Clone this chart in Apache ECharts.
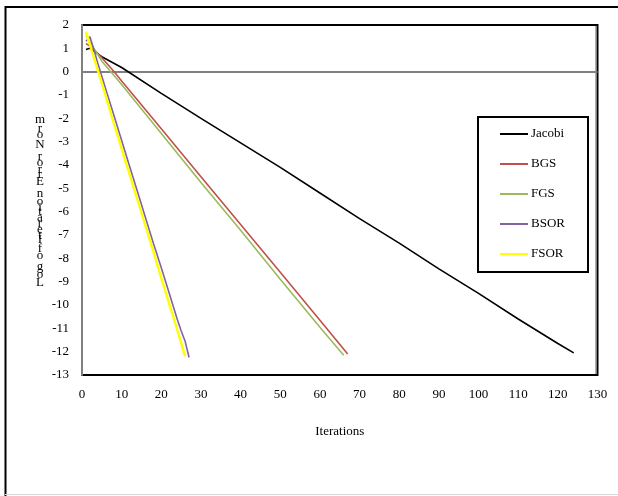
<!DOCTYPE html>
<html><head><meta charset="utf-8">
<script src="https://cdn.jsdelivr.net/npm/echarts@6/dist/echarts.min.js"></script>
<style>html,body{margin:0;padding:0;background:#fff}#c{width:618px;height:496px}</style>
</head><body><div id="c"></div>
<script>
// ---- data ----
const seriesNames = ['Jacobi', 'BGS', 'FGS', 'BSOR', 'FSOR'];
const seriesColors = ['#000000', '#C0504D', '#9BBB59', '#8064A2', '#FFFF00'];

const jacobiIter = [1, 2, 3, 5, 10, 20, 30, 40, 50, 60, 70, 80, 90, 100, 110, 120, 124];
const jacobiVal  = [0.95, 1.0, 0.88, 0.64, 0.18, -0.93, -2.0, -3.05, -4.1, -5.2, -6.3, -7.35, -8.45, -9.5, -10.6, -11.65, -12.05];

const bgsIter = [1, 2, 3, 5, 8, 10, 20, 30, 40, 50, 60, 67];
const bgsVal  = [1.2, 1.1, 0.95, 0.6, 0.02, -0.4, -2.45, -4.5, -6.55, -8.6, -10.65, -12.1];

const fgsIter = [1, 2, 3, 5, 7, 10, 20, 30, 40, 50, 60, 66];
const fgsVal  = [1.55, 1.3, 1.0, 0.45, 0.05, -0.55, -2.65, -4.75, -6.8, -8.9, -10.95, -12.15];

const bsorIter = [1, 2, 3, 4, 5, 6, 8, 10, 12, 14, 16, 18, 20, 22, 24, 25, 26, 27];
const bsorVal  = [1.3, 1.5, 0.95, 0.35, -0.2, -0.75, -1.85, -2.95, -4.05, -5.15, -6.25, -7.35, -8.4, -9.5, -10.6, -11.1, -11.55, -12.25];

const fsorIter = [1, 2, 3, 4, 5, 6, 8, 10, 12, 14, 16, 18, 20, 22, 24, 26];
const fsorVal  = [1.72, 1.15, 0.6, 0.05, -0.5, -1.05, -2.2, -3.3, -4.4, -5.5, -6.6, -7.7, -8.85, -9.95, -11.05, -12.2];

const xAxisTitle = 'Iterations';
const yAxisTitle = 'Log of Iteration Error Norm';

// ---- build ----
const iters = [jacobiIter, bgsIter, fgsIter, bsorIter, fsorIter];
const vals  = [jacobiVal, bgsVal, fgsVal, bsorVal, fsorVal];
const FONT = 'Liberation Serif';

const chart = echarts.init(document.getElementById('c'), null, {renderer: 'canvas'});

const series = seriesNames.map((name, k) => ({
  name: name,
  type: 'line',
  data: iters[k].map((x, i) => [x, vals[k][i]]),
  showSymbol: false,
  symbol: 'none',
  color: seriesColors[k],
  lineStyle: {color: seriesColors[k], width: k === 4 ? 2.5 : 1.6},
  z: 3 + k,
  animation: false
}));
// zero line
series[0].markLine = {
  silent: true, symbol: 'none', animation: false,
  label: {show: false},
  lineStyle: {color: '#808080', width: 2, type: 'solid'},
  data: [{yAxis: 0}],
  z: 2
};

// stacked, upright characters for the y-axis title (as in the reference)
const ctx = document.createElement('canvas').getContext('2d');
ctx.font = '13px "' + FONT + '"';
const chars = yAxisTitle.split('');
let cum = [], acc = 0;
chars.forEach(ch => { const w = ctx.measureText(ch).width; cum.push(acc + w / 2); acc += w; });
const firstC = cum[0], lastC = cum[cum.length - 1];
const yBottom = 283, yTop = 120;
const yTitleEls = chars.map((ch, i) => ({
  type: 'text',
  x: 40,
  y: yBottom - (cum[i] - firstC) / (lastC - firstC) * (yBottom - yTop),
  style: {text: ch, font: '13px "' + FONT + '"', fill: '#000', align: 'center', verticalAlign: 'middle'},
  silent: true, z: 10
}));

const option = {
  animation: false,
  backgroundColor: '#fff',
  grid: {left: 82, right: 20.5, top: 25, bottom: 121, show: true, borderColor: '#000', borderWidth: 2, backgroundColor: 'transparent'},
  xAxis: {
    type: 'value', min: 0, max: 130, interval: 10,
    name: xAxisTitle, nameLocation: 'middle', nameGap: 50,
    nameTextStyle: {fontFamily: FONT, fontSize: 13, color: '#000'},
    axisLine: {show: false, onZero: false},
    axisTick: {show: false},
    splitLine: {show: false},
    axisLabel: {fontFamily: FONT, fontSize: 13, color: '#000', margin: 13}
  },
  yAxis: {
    type: 'value', min: -13, max: 2, interval: 1,
    axisLine: {show: true, onZero: false, lineStyle: {color: '#808080', width: 2}},
    axisTick: {show: false},
    splitLine: {show: false},
    axisLabel: {fontFamily: FONT, fontSize: 13, color: '#000', margin: 13}
  },
  legend: {
    orient: 'vertical', left: 500, top: 126, padding: 0,
    icon: 'rect', itemWidth: 28, itemHeight: 2, itemGap: 14,
    textStyle: {fontFamily: FONT, fontSize: 13, color: '#000', lineHeight: 16, padding: [0, 0, 0, -2]},
    data: seriesNames, z: 20
  },
  graphic: [
    {type: 'rect', shape: {x: 478, y: 117, width: 110, height: 155}, style: {fill: '#fff', stroke: '#000', lineWidth: 2}, z: 8, silent: true},
    {type: 'line', shape: {x1: 595.5, y1: 26, x2: 595.5, y2: 374}, style: {stroke: '#b0b0b0', lineWidth: 1}, silent: true, z: 1},
    {type: 'line', shape: {x1: 5.5, y1: 6, x2: 5.5, y2: 496}, style: {stroke: '#000', lineWidth: 2}, silent: true},
    {type: 'line', shape: {x1: 5, y1: 7, x2: 618, y2: 7}, style: {stroke: '#000', lineWidth: 2}, silent: true},
    {type: 'line', shape: {x1: 5, y1: 494.5, x2: 618, y2: 494.5}, style: {stroke: '#d9d9d9', lineWidth: 1}, silent: true}
  ].concat(yTitleEls),
  series: series
};
chart.setOption(option);
</script>
</body></html>
